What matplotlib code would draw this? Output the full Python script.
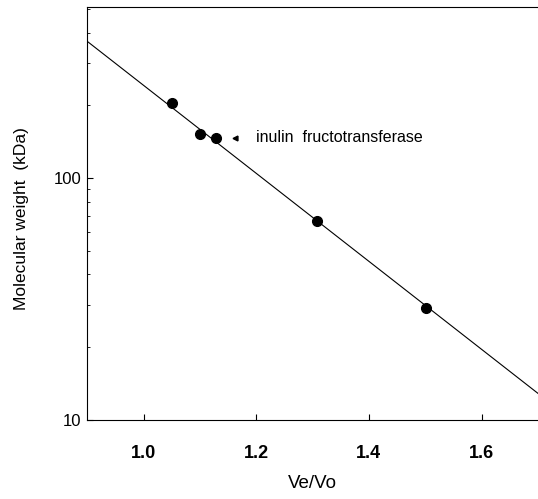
import matplotlib
matplotlib.use("Agg")
import matplotlib.pyplot as plt
from matplotlib.ticker import LogLocator, NullFormatter, FixedLocator, FixedFormatter

# standards (Ve/Vo, MW in kDa)
ve_vo = [1.05, 1.10, 1.128, 1.308, 1.502]
mw = [204, 152, 147, 66.4, 29.2]

# calibration line
line_x = [0.9, 1.7]
line_y = [368, 12.9]

# arrow marker + label for the enzyme
arrow_x = 1.162
arrow_y = 147
label_x = 1.2
label_text = "inulin  fructotransferase"

x_ticks = [1.0, 1.2, 1.4, 1.6]
x_labels = ["1.0", "1.2", "1.4", "1.6"]
y_ticks = [10, 100]
y_labels = ["10", "100"]

plt.rcParams['font.family'] = ['Liberation Sans', 'DejaVu Sans']

fig = plt.figure(figsize=(5.38, 4.99), dpi=100)
ax = fig.add_axes([0.162, 0.158, 0.838, 0.828])

ax.plot(line_x, line_y, color='black', lw=0.8)
ax.plot(ve_vo, mw, 'o', color='black', ms=7)
ax.plot([arrow_x], [arrow_y], marker='<', color='black', ms=3.5, ls='none')
ax.text(label_x, arrow_y, label_text, fontsize=11.5, va='center', ha='left')

ax.set_yscale('log')
ax.set_xlim(0.9, 1.7)
ax.set_ylim(10, 510)

ax.xaxis.set_major_locator(FixedLocator(x_ticks))
ax.xaxis.set_major_formatter(FixedFormatter(x_labels))
ax.yaxis.set_major_locator(FixedLocator(y_ticks))
ax.yaxis.set_major_formatter(FixedFormatter(y_labels))
ax.yaxis.set_minor_locator(LogLocator(base=10, subs=range(2, 10)))
ax.yaxis.set_minor_formatter(NullFormatter())

ax.tick_params(axis='x', direction='in', length=4, width=0.8, labelsize=13, pad=18)
ax.tick_params(axis='y', which='major', direction='in', length=4, width=0.8, labelsize=12, pad=4)
ax.tick_params(axis='y', which='minor', direction='in', length=2.5, width=0.6)
for lab in ax.get_xticklabels():
    lab.set_fontweight('bold')

ax.spines['right'].set_visible(False)
for s in ['left', 'bottom', 'top']:
    ax.spines[s].set_linewidth(0.8)

ax.set_xlabel("Ve/Vo", fontsize=13.5, labelpad=9)
ax.set_ylabel("Molecular weight  (kDa)", fontsize=12.5)
ax.yaxis.set_label_coords(-0.128, 0.489)

fig.savefig("out.png", dpi=100)
